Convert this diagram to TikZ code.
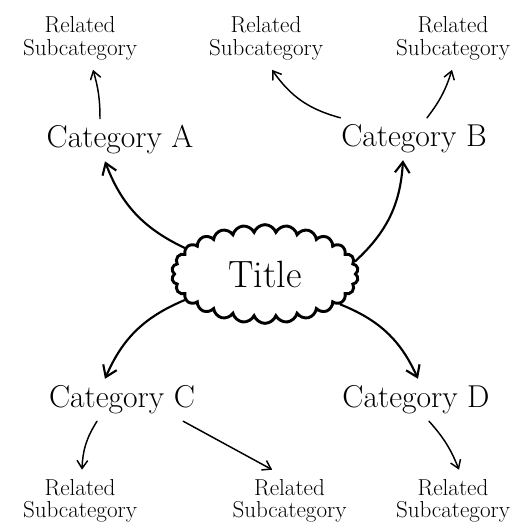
\documentclass[tikz,border=0pt]{standalone}
\usepackage{amsmath}
\usetikzlibrary{shapes.symbols,arrows.meta}

\begin{document}
\begin{tikzpicture}[x=0.75pt,y=0.75pt,yscale=-1,xscale=1,
  catbox/.style={inner sep=5pt,font=\fontsize{23.7}{28}\selectfont},
  subbox/.style={inner sep=7pt,align=center,font=\fontsize{17.3}{17}\selectfont},
  mainarr/.style={line width=1.6pt,line cap=round,-{Straight Barb[length=8pt,width=11pt]}},
  subarr/.style={line width=1.1pt,line cap=round,-{Straight Barb[length=6pt,width=8pt]}}]
                    \useasboundingbox (0,0) rectangle (524,524);
                    \draw (265,274) node [cloud, draw, cloud ignores aspect, cloud puffs=26, cloud puff arc=140, line width=2.2pt, minimum width=140pt, minimum height=74pt, font=\fontsize{28.5}{32}\selectfont] (title) {Title};
                    \draw (120,140) node [catbox] (catA) {Category A};
                    \draw (414,139) node [catbox] (catB) {Category B};
                    \draw (122,400) node [catbox] (catC) {Category C};
                    \draw (416,400) node [catbox] (catD) {Category D};
                    \draw (80,38.5) node [subbox] (subTL) {Related\\Subcategory};
                    \draw (266,38.5) node [subbox] (subTM) {Related\\Subcategory};
                    \draw (453,38.5) node [subbox] (subTR) {Related\\Subcategory};
                    \draw (80,501) node [subbox] (subBL) {Related\\Subcategory};
                    \draw (289.5,501) node [subbox] (subBM) {Related\\Subcategory};
                    \draw (453,501) node [subbox] (subBR) {Related\\Subcategory};
                    \draw [mainarr] (title.162) to [bend right=22] ([xshift=-11.25pt]catA.south);
                    \draw [mainarr] (title.8) to [bend left=22] ([xshift=-8.25pt]catB.south);
                    \draw [mainarr] (title.198) to [bend left=22] ([xshift=-12.75pt]catC.north);
                    \draw [mainarr] (title.338) to [bend right=22] ([xshift=1.5pt]catD.north);
                    \draw [subarr] ([xshift=-15pt]catA.north) to [bend left=8] ([xshift=9.75pt]subTL.south);
                    \draw [subarr] ([xshift=4.5pt]catB.north west) to [bend right=20] ([xshift=4.5pt]subTM.south);
                    \draw [subarr] ([xshift=9.75pt]catB.north) to [bend left=10] ([xshift=-0.75pt]subTR.south);
                    \draw [subarr] ([xshift=-18.75pt]catC.south) to [bend left=15] ([xshift=1.5pt]subBL.north);
                    \draw [subarr] ([xshift=-14pt]catC.south east) to ([xshift=-13pt]subBM.north);
                    \draw [subarr] ([xshift=9.75pt]catD.south) to [bend right=10] ([xshift=4.5pt]subBR.north);
                \end{tikzpicture}
\end{document}
